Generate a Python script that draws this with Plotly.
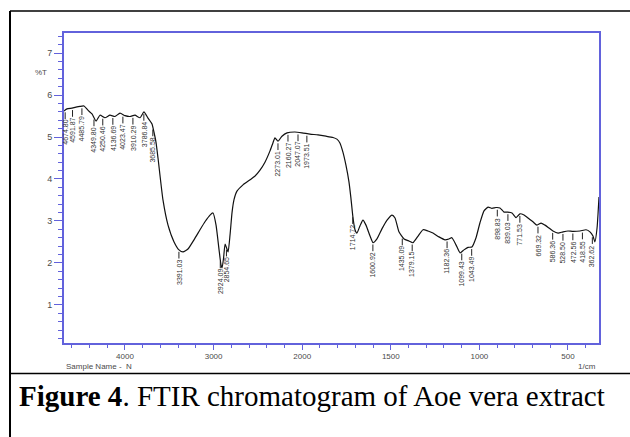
import numpy as np
import plotly.graph_objects as go

# ---- data ----
wavenumber = [4688,4654,4598,4508,4462,4418,4372,4326,4282,4226,4169,4113,4056,4000,3943,3887,3830,3786,3740,3695,
              3673,3650,3627,3571,3514,3446,3390,3345,3289,3221,3153,3097,3040,3006,2972,2938,2916,2904,2887,2870,
              2854,2836,2814,2791,2770,2736,2668,2589,2532,2476,2420,2363,2330,2307,2273,2228,2171,2082,2002,1956,
              1911,1866,1826,1804,1787,1770,1753,1736,1725,1713,1702,1691,1674,1657,1640,1617,1600,1578,1550,1521,
              1493,1476,1454,1425,1397,1375,1346,1318,1290,1262,1228,1194,1172,1155,1132,1109,1087,1064,1042,1019,
              997,974,951,929,906,884,861,839,816,793,771,748,726,698,675,652,630,607,585,556,
              528,500,472,432,398,376,359,348,336,325]
transmittance = [5.62,5.67,5.69,5.73,5.74,5.64,5.55,5.38,5.52,5.46,5.52,5.49,5.57,5.51,5.49,5.52,5.46,5.60,5.45,5.31,
                 5.12,4.88,4.50,3.50,2.90,2.50,2.31,2.26,2.33,2.55,2.79,2.98,3.14,3.19,2.90,2.31,1.95,1.88,2.12,2.45,
                 2.36,2.26,2.67,3.21,3.50,3.71,3.86,3.98,4.07,4.21,4.40,4.67,4.86,4.98,4.90,5.02,5.10,5.12,5.10,5.07,
                 5.05,5.02,4.99,4.95,4.86,4.64,4.33,3.93,3.55,3.07,2.79,2.71,2.88,3.02,2.90,2.64,2.48,2.57,2.81,3.02,
                 3.14,3.07,2.74,2.57,2.52,2.48,2.64,2.79,2.76,2.71,2.62,2.55,2.57,2.60,2.43,2.24,2.31,2.37,2.38,2.60,
                 2.95,3.24,3.33,3.30,3.32,3.31,3.21,3.21,3.19,3.08,3.17,3.14,3.07,2.98,2.90,2.95,2.90,2.83,2.76,2.71,
                 2.74,2.76,2.75,2.76,2.79,2.74,2.64,2.50,2.83,3.57]

peak_labels = ["4674.80","4591.87","4485.79","4349.80","4250.46","4136.69","4023.47","3910.29","3786.84","3685.58",
               "3391.03","2924.09","2854.65","2273.01","2160.27","2047.07","1973.51","1714.72","1600.92","1435.09",
               "1379.15","1182.36","1099.43","1043.49","898.83","839.03","771.53","669.32","586.36","528.50",
               "472.56","418.55","362.62"]

x_tick_values = [4000, 3000, 2000, 1500, 1000, 500]
x_tick_labels = ["4000", "3000", "2000", "1500", "1000", "500"]
y_tick_values = [1, 2, 3, 4, 5, 6, 7]
caption = "<b>Figure 4</b>. FTIR chromatogram of Aoe vera extract"

# ---- instrument axis scale: above 2000 1/cm the axis is compressed by 2 ----
def axis_scale(w):
    w = np.asarray(w, dtype=float)
    return np.where(w > 2000, 2000 + (w - 2000) / 2.0, w)

W, H = 630, 437
PL, PR, PT, PB = 64, 599, 33, 343   # plot area in pixels

def px(x):
    return (x - PL) / (PR - PL)

def py(y):
    return (PB - y) / (PB - PT)

AX = "#6262dc"
TXT = "#4a4a4a"

u = axis_scale(wavenumber)
fig = go.Figure()
fig.add_trace(go.Scatter(x=u, y=transmittance, mode="lines",
                         line=dict(color="#111111", width=1.2, shape="spline", smoothing=0.5),
                         hoverinfo="skip"))

# peak markers (stems + rotated labels)
peak_wn = np.array([float(s) for s in peak_labels])
wn_inc = np.array(wavenumber[::-1], dtype=float)
t_inc = np.array(transmittance[::-1], dtype=float)
peak_t = np.interp(peak_wn, wn_inc, t_inc)
peak_u = axis_scale(peak_wn)
sx, sy = [], []
for pu, pt in zip(peak_u, peak_t):
    sx += [pu, pu, None]
    sy += [pt - 0.05, pt - 0.21, None]
fig.add_trace(go.Scatter(x=sx, y=sy, mode="lines", line=dict(color="#222222", width=1),
                         hoverinfo="skip"))
annotations = []
for lab, pu, pt in zip(peak_labels, peak_u, peak_t):
    annotations.append(dict(x=pu, y=pt - 0.21, xref="x", yref="y", text=lab, showarrow=False,
                            textangle=-90, xanchor="center", yanchor="top",
                            font=dict(family="Liberation Sans", size=7, color="#333333"),
                            borderpad=0))

# axis texts
annotations += [
    dict(x=px(41), y=py(72), xref="paper", yref="paper", text="%T", showarrow=False,
         font=dict(family="Liberation Sans", size=8, color=TXT), xanchor="center", yanchor="middle"),
    dict(x=px(64), y=py(366), xref="paper", yref="paper", text="Sample Name -  N", showarrow=False,
         font=dict(family="Liberation Sans", size=8, color=TXT), xanchor="left", yanchor="middle"),
    dict(x=px(598), y=py(366), xref="paper", yref="paper", text="1/cm", showarrow=False,
         font=dict(family="Liberation Sans", size=8, color=TXT), xanchor="right", yanchor="middle"),
    dict(x=px(17), y=py(396), xref="paper", yref="paper", text=caption, showarrow=False,
         font=dict(family="Liberation Serif", size=29, color="#000000"), xanchor="left", yanchor="middle"),
]

# table borders around figure and caption
shapes = [
    dict(type="line", xref="paper", yref="paper", x0=px(10), x1=px(630), y0=py(11), y1=py(11),
         line=dict(color="black", width=1.5)),
    dict(type="line", xref="paper", yref="paper", x0=px(10), x1=px(10), y0=py(11), y1=py(437),
         line=dict(color="black", width=2)),
    dict(type="line", xref="paper", yref="paper", x0=px(10), x1=px(630), y0=py(373.5), y1=py(373.5),
         line=dict(color="black", width=1.5)),
]

minor_u = list(range(400, 3301, 100))
fig.update_layout(
    width=W, height=H,
    margin=dict(l=PL, r=W - PR, t=PT, b=H - PB),
    paper_bgcolor="white", plot_bgcolor="white",
    showlegend=False,
    annotations=annotations,
    shapes=shapes,
    xaxis=dict(range=[float(axis_scale(4688)), float(axis_scale(325))], autorange=False,
               showline=True, linecolor=AX, linewidth=1.5, mirror=True,
               ticks="outside", ticklen=5, tickwidth=1, tickcolor=AX,
               tickmode="array", tickvals=[float(v) for v in axis_scale(x_tick_values)], ticktext=x_tick_labels,
               tickfont=dict(family="Liberation Sans", size=8, color=TXT),
               minor=dict(tickmode="array", tickvals=minor_u, ticks="outside", ticklen=3, tickcolor=AX, tickwidth=1),
               showgrid=False, zeroline=False),
    yaxis=dict(range=[0.09, 7.48], autorange=False,
               showline=True, linecolor=AX, linewidth=2, mirror=True,
               ticks="outside", ticklen=8, tickwidth=1, tickcolor=AX,
               tickmode="array", tickvals=y_tick_values,
               tickfont=dict(family="Liberation Sans", size=9, color=TXT),
               minor=dict(dtick=0.2, tick0=0, ticks="outside", ticklen=4, tickcolor=AX, tickwidth=1),
               showgrid=False, zeroline=False),
)

fig.write_html("out.html")
